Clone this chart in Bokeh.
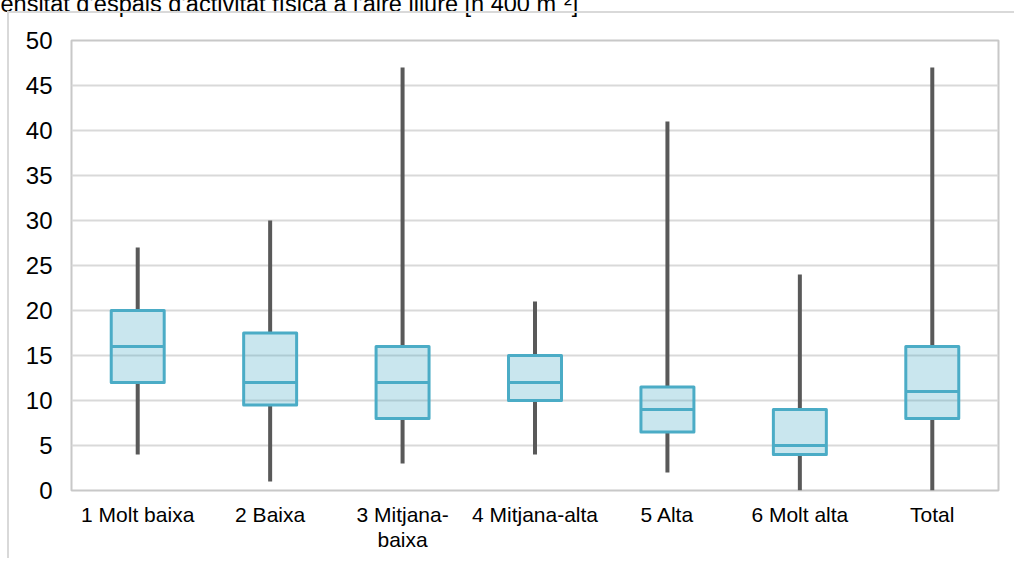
from bokeh.plotting import figure
from bokeh.models import FactorRange, Title, ColumnDataSource, FixedTicker, InlineStyleSheet
from bokeh.embed import file_html
from bokeh.resources import INLINE
from bokeh.transform import dodge

title_text = "ensitat d'espais d'activitat física a l'aire lliure [n 400 m\u207b\u00b2]"
categories = ["1 Molt baixa", "2 Baixa", "3 Mitjana-\nbaixa", "4 Mitjana-alta", "5 Alta", "6 Molt alta", "Total"]
mins = [4, 1, 3, 4, 2, 0, 0]
q1 = [12, 9.5, 8, 10, 6.5, 4, 8]
medians = [16, 12, 12, 12, 9, 5, 11]
q3 = [20, 17.5, 16, 15, 11.5, 9, 16]
maxs = [27, 30, 47, 21, 41, 24, 47]
y_ticks = list(range(0, 51, 5))

src = ColumnDataSource(dict(cat=categories, lo=mins, q1=q1, med=medians, q3=q3, hi=maxs))

FONT = "Liberation Sans"
p = figure(x_range=FactorRange(*categories, range_padding=0), y_range=(0, 50),
           width=1006, height=598, output_backend="svg", toolbar_location=None,
           min_border_left=71, min_border_right=8, min_border_top=80, min_border_bottom=68)
p.margin = (-40, 0, 0, 0)
p.stylesheets = [InlineStyleSheet(css="""
:host { position: relative; }
:host::after { content: ''; position: absolute; left: 7px; top: 51px; right: -8px; bottom: 0px;
  border-left: 2px solid #d9d9d9; border-top: 2px solid #d9d9d9; pointer-events: none; z-index: 10; }
""")]

p.add_layout(Title(text=title_text, align="left", offset=-71, standoff=48,
                   text_font=FONT, text_font_size="23.5px", text_font_style="normal",
                   text_color="#000000"), "above")

p.outline_line_color = "#c8c8c8"
p.outline_line_width = 2
p.xgrid.grid_line_color = None
p.ygrid.grid_line_color = "#d9d9d9"
p.ygrid.grid_line_width = 2
p.yaxis.ticker = FixedTicker(ticks=y_ticks)
for ax in (p.xaxis, p.yaxis):
    ax.axis_line_color = None
    ax.major_tick_line_color = None
    ax.minor_tick_line_color = None
    ax.major_tick_out = 0
    ax.major_tick_in = 0
    ax.major_label_text_font = FONT
    ax.major_label_text_color = "#000000"
p.yaxis.major_label_text_font_size = "24px"
p.yaxis.major_label_standoff = 19
p.xaxis.major_label_text_font_size = "21px"
p.xaxis.major_label_text_line_height = 1.1
p.xaxis.major_label_standoff = 12

p.segment(x0="cat", y0="lo", x1="cat", y1="q1", source=src, line_color="#595959", line_width=4)
p.segment(x0="cat", y0="q3", x1="cat", y1="hi", source=src, line_color="#595959", line_width=4)
p.vbar(x="cat", bottom="q1", top="q3", width=0.4, source=src,
       fill_color="#4bacc6", fill_alpha=0.3, line_color="#4bacc6", line_width=3, line_join="round")
p.segment(x0=dodge("cat", -0.2, range=p.x_range), y0="med",
          x1=dodge("cat", 0.2, range=p.x_range), y1="med",
          source=src, line_color="#4bacc6", line_width=3)

open("out.html", "w").write(file_html(p, INLINE))
